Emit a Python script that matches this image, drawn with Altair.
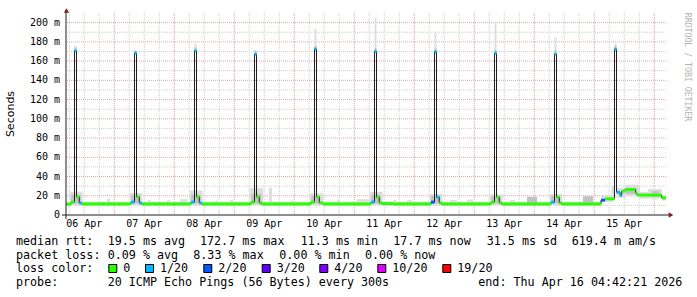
import altair as alt
import pandas as pd

# ---------------- data ----------------
# time axis: hours since 2026-04-06 00:00 ; graph spans 10 days ending 04:42 on Apr 16
T_START, T_END = 4.7, 244.7

# median rtt steps: start hour, median (ms), lost pings out of 20
med_t = [4.7, 6.7, 8.1, 8.9, 10.0, 11.0,
         30.7, 32.1, 32.9, 34.0, 35.0,
         54.7, 56.1, 56.9, 58.0, 59.0,
         78.7, 80.1, 80.9, 82.0, 83.0,
         102.7, 104.1, 104.9, 106.0, 107.5,
         126.7, 128.1, 128.9, 130.0, 131.0, 135.5,
         150.7, 152.1, 152.9, 154.0, 155.0,
         174.7, 176.1, 176.9, 178.0, 179.0,
         198.7, 200.1, 200.9, 202.0, 203.0,
         218.7, 220.3, 224.1, 224.9, 226.3, 227.0, 228.3, 232.5, 233.1, 243.0]
med_v = [11.2, 13.4, 170.7, 18.8, 12.5, 11.4,
         13.4, 168.3, 18.8, 12.5, 11.4,
         13.4, 170.7, 18.8, 12.5, 11.4,
         13.4, 167.3, 18.8, 12.5, 11.4,
         13.4, 172.5, 18.8, 12.5, 11.4,
         13.4, 170.0, 18.5, 12.5, 11.9, 11.4,
         13.4, 169.7, 18.5, 12.5, 11.4,
         13.4, 168.3, 18.5, 12.5, 11.4,
         13.4, 167.3, 18.5, 12.5, 11.4,
         15.4, 16.8, 172.4, 23.6, 20.2, 24.7, 26.5, 23.0, 20.7, 17.7]
med_loss = [0, 0, 1, 0, 1, 0,
            1, 1, 0, 1, 0,
            1, 1, 0, 1, 0,
            0, 1, 0, 0, 0,
            0, 1, 0, 0, 0,
            1, 1, 0, 0, 0, 0,
            2, 1, 1, 0, 0,
            0, 1, 0, 0, 0,
            1, 1, 0, 0, 0,
            2, 0, 1, 1, 1, 0, 0, 0, 0, 0]

# smoke (ping spread): start hour, end hour, low ms, high ms, shade
smoke_t0 = [4.7,
            6.2, 6.8, 30.2, 30.8, 54.2, 54.8, 78.2, 78.8, 102.2, 102.8,
            126.2, 126.8, 150.2, 150.8, 174.2, 174.8, 198.2, 198.8,
            8.1, 32.1, 56.1, 80.1, 104.1, 128.1, 152.1, 176.1, 200.1, 224.1,
            8.1, 32.1, 56.1, 80.1, 104.1, 128.1, 152.1, 176.1, 200.1, 224.1,
            21.1, 37.5, 45.1, 50.3, 64.3, 70.3, 85.9, 94.3, 113.1, 121.1,
            135.5, 141.1, 158.3, 165.1, 182.3, 189.1, 211.5,
            218.7, 222.9, 224.9, 228.5, 228.5, 234.3, 237.5, 239.0, 243.1]
smoke_t1 = [218.7,
            11.4, 10.6, 35.2, 34.4, 59.4, 58.6, 83.6, 82.8, 107.6, 106.4,
            131.4, 130.6, 155.2, 154.4, 179.4, 178.6, 203.2, 202.4,
            8.9, 32.9, 56.9, 80.9, 104.9, 128.9, 152.9, 176.9, 200.9, 224.9,
            8.9, 32.9, 56.9, 80.9, 104.9, 128.9, 152.9, 176.9, 200.9, 224.9,
            22.3, 38.7, 46.3, 53.1, 65.5, 71.5, 87.1, 95.5, 114.3, 126.3,
            136.7, 143.1, 161.1, 167.5, 184.3, 193.1, 215.5,
            223.5, 224.1, 228.5, 234.3, 233.0, 237.5, 243.1, 242.0, 244.7]
smoke_lo = [10.4,
            11.0, 12.0, 11.0, 12.0, 11.0, 12.0, 11.0, 12.0, 11.0, 12.0,
            11.0, 12.0, 11.0, 12.0, 11.0, 12.0, 11.0, 12.0,
            169.2, 166.8, 169.2, 165.8, 171.0, 168.5, 168.2, 166.8, 165.8, 170.9,
            169.7, 167.3, 169.7, 166.3, 171.5, 169.0, 168.7, 167.3, 166.3, 171.4,
            11.0, 11.0, 11.0, 11.0, 11.0, 11.0, 11.0, 11.0, 11.0, 11.0,
            11.0, 11.0, 11.0, 11.0, 11.0, 11.0, 11.0,
            13.5, 15.0, 18.0, 20.0, 22.0, 17.0, 17.0, 19.0, 15.0]
smoke_hi = [14.0,
            24.2, 21.0, 23.0, 20.5, 25.5, 21.0, 28.0, 22.0, 22.5, 20.0,
            24.0, 21.0, 22.0, 20.0, 21.5, 19.5, 22.0, 20.0,
            176.0, 170.7, 178.0, 171.7, 193.8, 205.0, 189.6, 201.0, 184.5, 178.0,
            174.2, 171.3, 174.2, 170.8, 176.0, 173.5, 173.2, 171.8, 170.8, 175.9,
            17.0, 15.5, 15.5, 16.5, 15.0, 15.5, 28.0, 15.0, 15.5, 16.5,
            15.5, 15.5, 15.5, 16.0, 15.5, 19.0, 19.5,
            21.0, 30.0, 28.0, 31.5, 28.0, 24.0, 27.0, 25.0, 21.0]
smoke_shade = ["l",
               "l", "m", "l", "m", "l", "m", "l", "m", "l", "m",
               "l", "m", "l", "m", "l", "m", "l", "m",
               "l", "l", "l", "l", "l", "l", "l", "l", "l", "l",
               "m", "m", "m", "m", "m", "m", "m", "m", "m", "m",
               "l", "l", "l", "l", "l", "l", "l", "l", "l", "l",
               "l", "l", "l", "l", "l", "m", "m",
               "l", "l", "l", "l", "m", "l", "l", "m", "l"]

loss_levels = ["0", "1/20", "2/20", "3/20", "4/20", "10/20", "19/20"]
loss_colors = ["#26ff00", "#00b8ff", "#0059ff", "#5e00ff", "#7e00ff", "#dd00ff", "#ff0000"]
loss_name = {0: "0", 1: "1/20", 2: "2/20", 3: "3/20", 4: "4/20", 10: "10/20", 19: "19/20"}

ytick_vals = [0, 20, 40, 60, 80, 100, 120, 140, 160, 180, 200]
ytick_labels = ["0\u00a0\u00a0", "20 m", "40 m", "60 m", "80 m", "100 m", "120 m",
                "140 m", "160 m", "180 m", "200 m"]
ygrid_minor = [10, 30, 50, 70, 90, 110, 130, 150, 170, 190]
ygrid_major = [20, 40, 60, 80, 100, 120, 140, 160, 180, 200]
xgrid_major = [24, 48, 72, 96, 120, 144, 168, 192, 216, 240]
xgrid_minor = [6, 12, 18, 30, 36, 42, 54, 60, 66, 78, 84, 90, 102, 108, 114, 126, 132, 138,
               150, 156, 162, 174, 180, 186, 198, 204, 210, 222, 228, 234]
xtick_hours = [12, 36, 60, 84, 108, 132, 156, 180, 204, 228]
xtick_labels = ["06 Apr", "07 Apr", "08 Apr", "09 Apr", "10 Apr", "11 Apr", "12 Apr",
                "13 Apr", "14 Apr", "15 Apr"]

legend_rows = [
    [(16, "median rtt:"), (107.7, "19.5 ms avg"), (200, "172.7 ms max"), (300.7, "11.3 ms min"),
     (393.3, "17.7 ms now"), (486.7, "31.5 ms sd"), (571.7, "619.4 m am/s")],
    [(16, "packet loss:"), (107.7, "0.09 % avg"), (193.3, "8.33 % max"), (279.3, "0.00 % min"),
     (365, "0.00 % now")],
    [(16, "loss color:")],
    [(16, "probe:"), (107.7, "20 ICMP Echo Pings (56 Bytes) every 300s"),
     (478.3, "end: Thu Apr 16 04:42:21 2026")],
]
legend_baselines = [245.3, 258.8, 272.3, 285.8]
legend_sq_x = [108.3, 145.0, 203.3, 261.7, 319.3, 377.3, 442.3]

# ---------------- layout constants ----------------
PL, PT, W, H = 66, 13, 600, 202
MONO = "DejaVu Sans Mono"

xs = alt.Scale(domain=[T_START, T_END], nice=False, zero=False)
ys = alt.Scale(domain=[0, 210], nice=False, zero=True)

n = min(len(med_t), len(med_v), len(med_loss))
t1 = med_t[1:n] + [T_END]
med_df = pd.DataFrame({
    "t0": med_t[:n], "t1": t1, "v": med_v[:n],
    "lo": [v - 1.5 for v in med_v[:n]], "hi": [v + 1.5 for v in med_v[:n]],
    "loss": [loss_name[l] for l in med_loss[:n]],
})
line_df = pd.DataFrame({"t": med_t[:n] + [T_END], "v": med_v[:n] + [med_v[n - 1]]})

m = min(len(smoke_t0), len(smoke_t1), len(smoke_lo), len(smoke_hi), len(smoke_shade))
smoke_df = pd.DataFrame({"t0": smoke_t0[:m], "t1": smoke_t1[:m], "lo": smoke_lo[:m],
                         "hi": smoke_hi[:m], "shade": smoke_shade[:m]})

dummy = pd.DataFrame({"d": [0]})


def txt(s, x, y, size=11.7, font=MONO, align="left", baseline="alphabetic", color="#000000", angle=0):
    kw = dict(text=s, align=align, baseline=baseline, font=font, fontSize=size, color=color)
    if angle:
        kw["angle"] = angle
    return alt.Chart(dummy).mark_text(**kw).encode(x=alt.value(x - PL), y=alt.value(y - PT))


layers = []

# grid
layers.append(alt.Chart(pd.DataFrame({"v": ygrid_minor})).mark_rule(
    color="#cfcfcf", strokeDash=[1, 1], strokeWidth=1).encode(y=alt.Y("v:Q", scale=ys, axis=None)))
layers.append(alt.Chart(pd.DataFrame({"h": xgrid_minor})).mark_rule(
    color="#cfcfcf", strokeDash=[1, 1], strokeWidth=1).encode(x=alt.X("h:Q", scale=xs, axis=None)))
layers.append(alt.Chart(pd.DataFrame({"v": ygrid_major})).mark_rule(
    color="#e4a4a4", strokeDash=[1, 1], strokeWidth=1).encode(y=alt.Y("v:Q", scale=ys, axis=None)))
layers.append(alt.Chart(pd.DataFrame({"h": xgrid_major})).mark_rule(
    color="#e4a4a4", strokeDash=[1, 1], strokeWidth=1).encode(x=alt.X("h:Q", scale=xs, axis=None)))

# smoke
layers.append(alt.Chart(smoke_df).mark_rect().encode(
    x=alt.X("t0:Q", scale=xs, axis=None), x2="t1:Q",
    y=alt.Y("lo:Q", scale=ys, axis=None), y2="hi:Q",
    color=alt.Color("shade:N", scale=alt.Scale(domain=["l", "m"], range=["#dedede", "#c2c2c2"]),
                    legend=None)))

# median line (drawn below the loss colour bands, so only its steps show)
layers.append(alt.Chart(line_df).mark_line(interpolate="step-after", color="#202020", strokeWidth=1).encode(
    x=alt.X("t:Q", scale=xs, axis=None), y=alt.Y("v:Q", scale=ys, axis=None)))

# loss coloured median bands
layers.append(alt.Chart(med_df).mark_rect().encode(
    x=alt.X("t0:Q", scale=xs, axis=None), x2="t1:Q",
    y=alt.Y("lo:Q", scale=ys, axis=None), y2="hi:Q",
    fill=alt.Fill("loss:N", scale=alt.Scale(domain=loss_levels, range=loss_colors), legend=None)))

# axes lines and arrows
layers.append(alt.Chart(dummy).mark_rule(color="#1f1f1f", strokeWidth=1).encode(
    x=alt.value(-4), x2=alt.value(W + 3), y=alt.value(H)))
layers.append(alt.Chart(dummy).mark_rule(color="#1f1f1f", strokeWidth=1).encode(
    x=alt.value(0), y=alt.value(-3), y2=alt.value(H + 4)))
layers.append(alt.Chart(dummy).mark_point(shape="triangle-up", filled=True, size=28, color="#7f1f1f",
                                           opacity=1).encode(x=alt.value(0.5), y=alt.value(-2.5)))
layers.append(alt.Chart(dummy).mark_point(shape="triangle-right", filled=True, size=28, color="#7f1f1f",
                                           opacity=1).encode(x=alt.value(W + 5), y=alt.value(H)))

# tick labels
layers.append(alt.Chart(pd.DataFrame({"v": ytick_vals, "lab": ytick_labels})).mark_text(
    align="right", baseline="middle", font=MONO, fontSize=10, color="#000000").encode(
    y=alt.Y("v:Q", scale=ys, axis=None), x=alt.value(-6), text="lab:N"))
layers.append(alt.Chart(pd.DataFrame({"h": xtick_hours, "lab": xtick_labels})).mark_text(
    align="center", baseline="alphabetic", font=MONO, fontSize=10, color="#000000").encode(
    x=alt.X("h:Q", scale=xs, axis=None), y=alt.value(227 - PT), text="lab:N"))

# titles
layers.append(txt("Seconds", 11, 114, size=11, font="DejaVu Sans", align="center",
                  baseline="middle", angle=270))
layers.append(txt("RRDTOOL / TOBI OETIKER", 687, 67, size=8.2, align="center",
                  baseline="middle", color="#b4b4b4", angle=90))

# legend text
for row, base in zip(legend_rows, legend_baselines):
    for x, s in row:
        layers.append(txt(s, x, base))
for sx, lab, col in zip(legend_sq_x, loss_levels, loss_colors):
    layers.append(alt.Chart(dummy).mark_rect(fill=col, stroke="#000000", strokeWidth=1).encode(
        x=alt.value(sx + 0.5 - PL), x2=alt.value(sx + 8.5 - PL),
        y=alt.value(264.5 - PT), y2=alt.value(272.5 - PT)))
    layers.append(txt(lab, sx + 15, legend_baselines[2]))

chart = alt.layer(*layers).properties(
    width=W, height=H,
    padding={"left": PL, "top": PT, "right": 697 - PL - W, "bottom": 297 - PT - H},
    autosize=alt.AutoSizeParams(type="none"),
    background="#ffffff",
).configure_view(stroke=None)

chart.save("out.html", embed_options={"renderer": "svg", "actions": False})
